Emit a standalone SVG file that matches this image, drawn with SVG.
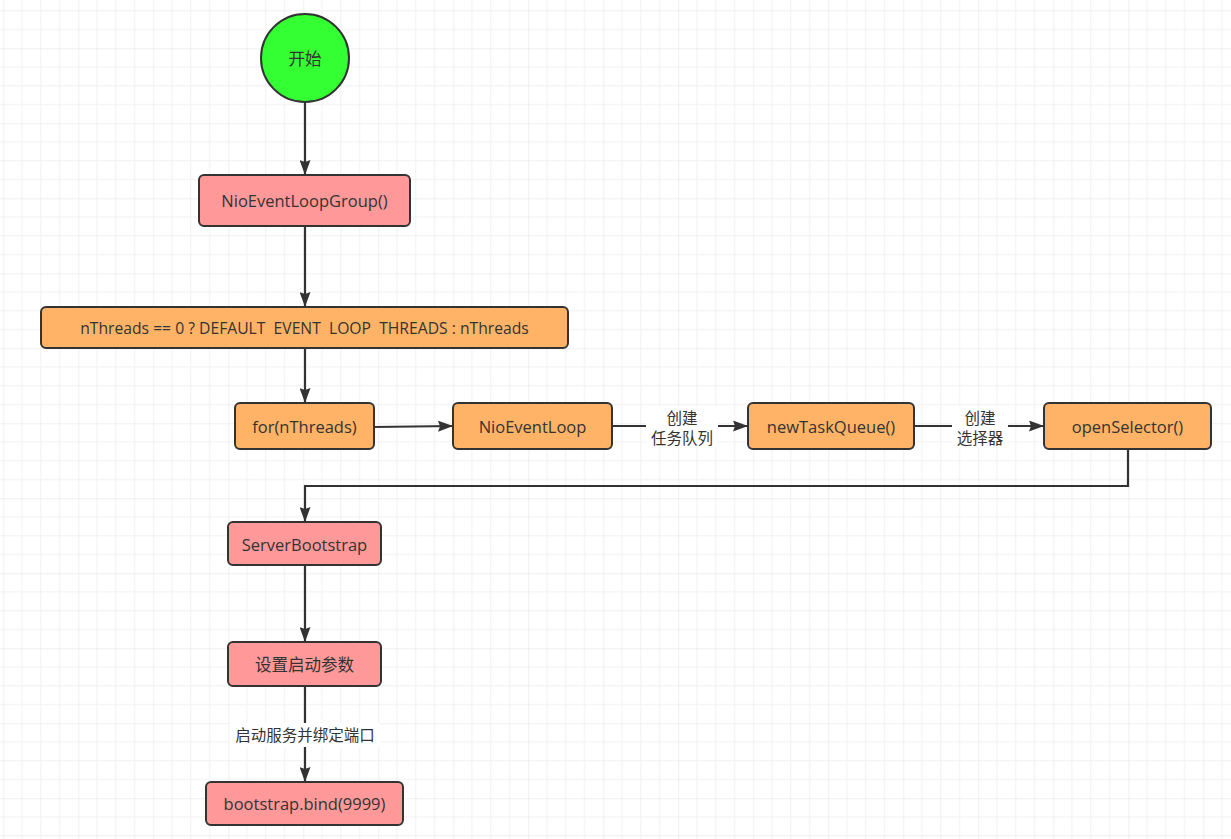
<svg xmlns="http://www.w3.org/2000/svg" width="1231" height="839" viewBox="0 0 1231 839">
<defs>
<pattern id="grid" x="3.3" y="48.3" width="75" height="75" patternUnits="userSpaceOnUse">
<path d="M18.75 0V75M37.5 0V75M56.25 0V75M0 18.75H75M0 37.5H75M0 56.25H75" stroke="#f1f1f1" stroke-width="1" fill="none"/>
<path d="M0 0V75M0 0H75" stroke="#e2e2e2" stroke-width="1" fill="none"/>
</pattern>
<marker id="arr" viewBox="0 0 15 11" refX="15" refY="5.5" markerWidth="15" markerHeight="11" markerUnits="userSpaceOnUse" orient="auto">
<path d="M0 0L15 5.5L0 11L2 5.5Z" fill="#333"/>
</marker>
<style>
.box{stroke:#333;stroke-width:2}
.pink{fill:#ff9999}
.orange{fill:#ffb366}
.t{font-family:"Open Sans","Noto Sans CJK SC",sans-serif;font-size:16.5px;fill:#333;text-anchor:middle;dominant-baseline:central;white-space:pre}
.lb{font-family:"Open Sans","Noto Sans CJK SC",sans-serif;font-size:15.5px;fill:#333;text-anchor:middle;dominant-baseline:central}
.c{stroke:#333;stroke-width:2.2;fill:none;marker-end:url(#arr)}
</style>
</defs>
<rect width="1231" height="839" fill="#fff"/>
<rect width="1231" height="839" fill="url(#grid)"/>
<g id="connectors">
<path class="c" d="M305 102V175"/>
<path class="c" d="M305 226V307"/>
<path class="c" d="M305 348V403"/>
<path class="c" d="M374 427L453 426"/>
<path class="c" d="M612 426H748"/>
<path class="c" d="M914 426H1044"/>
<path class="c" d="M1128 449V486H305V522"/>
<path class="c" d="M305 565V642"/>
<path class="c" d="M305 686V782"/>
<rect x="646" y="407" width="72" height="40" fill="#fff"/>
<text class="lb" x="682" y="418">创建</text>
<text class="lb" x="682" y="438">任务队列</text>
<rect x="952" y="407" width="56" height="40" fill="#fff"/>
<text class="lb" x="980" y="418">创建</text>
<text class="lb" x="980" y="438">选择器</text>
<rect x="230" y="723" width="150" height="24" fill="#fff"/>
<text class="lb" x="305" y="735">启动服务并绑定端口</text>
</g>
<g id="start">
<circle cx="305" cy="58" r="44" fill="#33ff33" stroke="#333" stroke-width="2"/>
<text class="t" x="305" y="58">开始</text>
</g>
<g id="group">
<rect class="box pink" x="199" y="175" width="211" height="51" rx="5"/>
<text class="t" x="304.5" y="200.5">NioEventLoopGroup()</text>
</g>
<g id="nthreads">
<rect class="box orange" x="41" y="307" width="527" height="41" rx="5"/>
<text class="t" x="304.5" y="328" style="font-size:15.7px" xml:space="preserve">nThreads == 0 ? DEFAULT  EVENT  LOOP  THREADS : nThreads</text>
</g>
<g id="for">
<rect class="box orange" x="235" y="403" width="139" height="46" rx="5"/>
<text class="t" x="304.5" y="426">for(nThreads)</text>
</g>
<g id="loop">
<rect class="box orange" x="453" y="403" width="159" height="46" rx="5"/>
<text class="t" x="532.5" y="426">NioEventLoop</text>
</g>
<g id="queue">
<rect class="box orange" x="748" y="403" width="166" height="46" rx="5"/>
<text class="t" x="831" y="426">newTaskQueue()</text>
</g>
<g id="selector">
<rect class="box orange" x="1044" y="403" width="167" height="46" rx="5"/>
<text class="t" x="1127.5" y="426">openSelector()</text>
</g>
<g id="bootstrap">
<rect class="box pink" x="228" y="522" width="153" height="43" rx="5"/>
<text class="t" x="304.5" y="544">ServerBootstrap</text>
</g>
<g id="params">
<rect class="box pink" x="228" y="642" width="153" height="44" rx="5"/>
<text class="t" x="304.5" y="664">设置启动参数</text>
</g>
<g id="bind">
<rect class="box pink" x="206" y="782" width="197" height="43" rx="5"/>
<text class="t" x="304.5" y="803.5">bootstrap.bind(9999)</text>
</g>
</svg>
